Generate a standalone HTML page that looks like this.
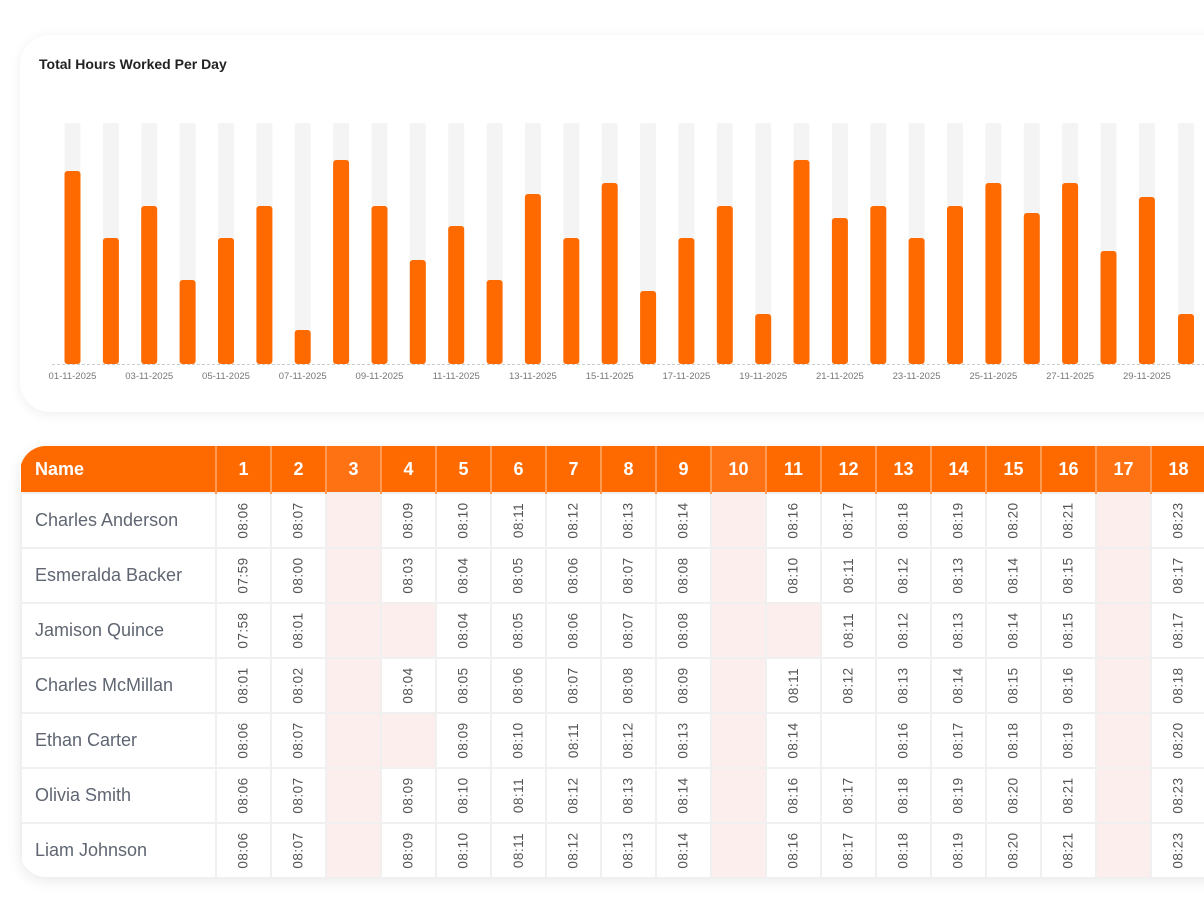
<!DOCTYPE html>
<html><head><meta charset="utf-8"><style>
body{margin:0;width:1204px;height:914px;background:#fff;position:relative;overflow:hidden;font-family:"Liberation Sans",sans-serif}
.card{position:absolute;left:20px;top:35px;width:1220px;height:377px;border-radius:30px;background:#fff;box-shadow:0 2px 12px rgba(0,0,0,0.07)}
.title{position:absolute;left:39px;top:56px;font-size:14px;font-weight:bold;color:#222}
.tw{position:absolute;left:20px;top:446px;width:1220px;height:431px;border-radius:26px 0 0 26px;overflow:hidden;box-shadow:0 4px 14px rgba(0,0,0,0.09);background:#fff}
table{border-collapse:collapse;table-layout:fixed;width:1240px}
th{background:#ff6a00;color:#fff;height:46px;font-size:18px;font-weight:bold;border-right:2px solid #ff9a55;padding:0}
th.w{background:#ff7214}
th.n{text-align:left;padding-left:14px}
td{height:53px;border:2px solid #f0f0f0;padding:0;text-align:center;font-size:13.5px;color:#555}
td.n{text-align:left;padding-left:13px;font-size:18px;color:#5f6672}
td.p{background:#fdeeee}
td span{display:inline-block;transform:rotate(-90deg);letter-spacing:0.5px}
</style></head><body>
<div class="card"></div>
<div class="title">Total Hours Worked Per Day</div>
<svg style="position:absolute;left:0;top:0" width="1204" height="420">
<g fill="#f4f4f4">
<rect x="64.5" y="123" width="16" height="241" rx="2"/><rect x="102.9" y="123" width="16" height="241" rx="2"/><rect x="141.2" y="123" width="16" height="241" rx="2"/><rect x="179.6" y="123" width="16" height="241" rx="2"/><rect x="218" y="123" width="16" height="241" rx="2"/><rect x="256.4" y="123" width="16" height="241" rx="2"/><rect x="294.7" y="123" width="16" height="241" rx="2"/><rect x="333.1" y="123" width="16" height="241" rx="2"/><rect x="371.5" y="123" width="16" height="241" rx="2"/><rect x="409.8" y="123" width="16" height="241" rx="2"/><rect x="448.2" y="123" width="16" height="241" rx="2"/><rect x="486.6" y="123" width="16" height="241" rx="2"/><rect x="524.9" y="123" width="16" height="241" rx="2"/><rect x="563.3" y="123" width="16" height="241" rx="2"/><rect x="601.7" y="123" width="16" height="241" rx="2"/><rect x="640.1" y="123" width="16" height="241" rx="2"/><rect x="678.4" y="123" width="16" height="241" rx="2"/><rect x="716.8" y="123" width="16" height="241" rx="2"/><rect x="755.2" y="123" width="16" height="241" rx="2"/><rect x="793.5" y="123" width="16" height="241" rx="2"/><rect x="831.9" y="123" width="16" height="241" rx="2"/><rect x="870.3" y="123" width="16" height="241" rx="2"/><rect x="908.6" y="123" width="16" height="241" rx="2"/><rect x="947" y="123" width="16" height="241" rx="2"/><rect x="985.4" y="123" width="16" height="241" rx="2"/><rect x="1023.8" y="123" width="16" height="241" rx="2"/><rect x="1062.1" y="123" width="16" height="241" rx="2"/><rect x="1100.5" y="123" width="16" height="241" rx="2"/><rect x="1138.9" y="123" width="16" height="241" rx="2"/><rect x="1178" y="123" width="16" height="241" rx="2"/>
</g>
<g fill="#ff6a00">
<rect x="64.5" y="171" width="16" height="193" rx="3"/><rect x="102.9" y="238" width="16" height="126" rx="3"/><rect x="141.2" y="206" width="16" height="158" rx="3"/><rect x="179.6" y="280" width="16" height="84" rx="3"/><rect x="218" y="238" width="16" height="126" rx="3"/><rect x="256.4" y="206" width="16" height="158" rx="3"/><rect x="294.7" y="330" width="16" height="34" rx="3"/><rect x="333.1" y="160" width="16" height="204" rx="3"/><rect x="371.5" y="206" width="16" height="158" rx="3"/><rect x="409.8" y="260" width="16" height="104" rx="3"/><rect x="448.2" y="226" width="16" height="138" rx="3"/><rect x="486.6" y="280" width="16" height="84" rx="3"/><rect x="524.9" y="194" width="16" height="170" rx="3"/><rect x="563.3" y="238" width="16" height="126" rx="3"/><rect x="601.7" y="183" width="16" height="181" rx="3"/><rect x="640.1" y="291" width="16" height="73" rx="3"/><rect x="678.4" y="238" width="16" height="126" rx="3"/><rect x="716.8" y="206" width="16" height="158" rx="3"/><rect x="755.2" y="314" width="16" height="50" rx="3"/><rect x="793.5" y="160" width="16" height="204" rx="3"/><rect x="831.9" y="218" width="16" height="146" rx="3"/><rect x="870.3" y="206" width="16" height="158" rx="3"/><rect x="908.6" y="238" width="16" height="126" rx="3"/><rect x="947" y="206" width="16" height="158" rx="3"/><rect x="985.4" y="183" width="16" height="181" rx="3"/><rect x="1023.8" y="213" width="16" height="151" rx="3"/><rect x="1062.1" y="183" width="16" height="181" rx="3"/><rect x="1100.5" y="251" width="16" height="113" rx="3"/><rect x="1138.9" y="197" width="16" height="167" rx="3"/><rect x="1178" y="314" width="16" height="50" rx="3"/>
</g>
<line x1="52" y1="364.5" x2="1204" y2="364.5" stroke="#ccc" stroke-dasharray="3,2"/>
<g font-size="9.5" fill="#777" text-anchor="middle" font-family="Liberation Sans,sans-serif">
<text x="72.5" y="379">01-11-2025</text><text x="149.2" y="379">03-11-2025</text><text x="226" y="379">05-11-2025</text><text x="302.7" y="379">07-11-2025</text><text x="379.5" y="379">09-11-2025</text><text x="456.2" y="379">11-11-2025</text><text x="532.9" y="379">13-11-2025</text><text x="609.7" y="379">15-11-2025</text><text x="686.4" y="379">17-11-2025</text><text x="763.2" y="379">19-11-2025</text><text x="839.9" y="379">21-11-2025</text><text x="916.6" y="379">23-11-2025</text><text x="993.4" y="379">25-11-2025</text><text x="1070.1" y="379">27-11-2025</text><text x="1146.9" y="379">29-11-2025</text>
</g>
</svg>
<div class="tw"><table>
<colgroup><col style="width:195px"><col style="width:55px"><col style="width:55px"><col style="width:55px"><col style="width:55px"><col style="width:55px"><col style="width:55px"><col style="width:55px"><col style="width:55px"><col style="width:55px"><col style="width:55px"><col style="width:55px"><col style="width:55px"><col style="width:55px"><col style="width:55px"><col style="width:55px"><col style="width:55px"><col style="width:55px"><col style="width:55px"><col style="width:55px"></colgroup>
<tr><th class="n">Name</th><th>1</th><th>2</th><th class="w">3</th><th>4</th><th>5</th><th>6</th><th>7</th><th>8</th><th>9</th><th class="w">10</th><th>11</th><th>12</th><th>13</th><th>14</th><th>15</th><th>16</th><th class="w">17</th><th>18</th><th>19</th></tr>
<tr><td class="n">Charles Anderson</td><td><span>08:06</span></td><td><span>08:07</span></td><td class="p"></td><td><span>08:09</span></td><td><span>08:10</span></td><td><span>08:11</span></td><td><span>08:12</span></td><td><span>08:13</span></td><td><span>08:14</span></td><td class="p"></td><td><span>08:16</span></td><td><span>08:17</span></td><td><span>08:18</span></td><td><span>08:19</span></td><td><span>08:20</span></td><td><span>08:21</span></td><td class="p"></td><td><span>08:23</span></td><td></td></tr>
<tr><td class="n">Esmeralda Backer</td><td><span>07:59</span></td><td><span>08:00</span></td><td class="p"></td><td><span>08:03</span></td><td><span>08:04</span></td><td><span>08:05</span></td><td><span>08:06</span></td><td><span>08:07</span></td><td><span>08:08</span></td><td class="p"></td><td><span>08:10</span></td><td><span>08:11</span></td><td><span>08:12</span></td><td><span>08:13</span></td><td><span>08:14</span></td><td><span>08:15</span></td><td class="p"></td><td><span>08:17</span></td><td></td></tr>
<tr><td class="n">Jamison Quince</td><td><span>07:58</span></td><td><span>08:01</span></td><td class="p"></td><td class="p"></td><td><span>08:04</span></td><td><span>08:05</span></td><td><span>08:06</span></td><td><span>08:07</span></td><td><span>08:08</span></td><td class="p"></td><td class="p"></td><td><span>08:11</span></td><td><span>08:12</span></td><td><span>08:13</span></td><td><span>08:14</span></td><td><span>08:15</span></td><td class="p"></td><td><span>08:17</span></td><td></td></tr>
<tr><td class="n">Charles McMillan</td><td><span>08:01</span></td><td><span>08:02</span></td><td class="p"></td><td><span>08:04</span></td><td><span>08:05</span></td><td><span>08:06</span></td><td><span>08:07</span></td><td><span>08:08</span></td><td><span>08:09</span></td><td class="p"></td><td><span>08:11</span></td><td><span>08:12</span></td><td><span>08:13</span></td><td><span>08:14</span></td><td><span>08:15</span></td><td><span>08:16</span></td><td class="p"></td><td><span>08:18</span></td><td></td></tr>
<tr><td class="n">Ethan Carter</td><td><span>08:06</span></td><td><span>08:07</span></td><td class="p"></td><td class="p"></td><td><span>08:09</span></td><td><span>08:10</span></td><td><span>08:11</span></td><td><span>08:12</span></td><td><span>08:13</span></td><td class="p"></td><td><span>08:14</span></td><td></td><td><span>08:16</span></td><td><span>08:17</span></td><td><span>08:18</span></td><td><span>08:19</span></td><td class="p"></td><td><span>08:20</span></td><td></td></tr>
<tr><td class="n">Olivia Smith</td><td><span>08:06</span></td><td><span>08:07</span></td><td class="p"></td><td><span>08:09</span></td><td><span>08:10</span></td><td><span>08:11</span></td><td><span>08:12</span></td><td><span>08:13</span></td><td><span>08:14</span></td><td class="p"></td><td><span>08:16</span></td><td><span>08:17</span></td><td><span>08:18</span></td><td><span>08:19</span></td><td><span>08:20</span></td><td><span>08:21</span></td><td class="p"></td><td><span>08:23</span></td><td></td></tr>
<tr><td class="n">Liam Johnson</td><td><span>08:06</span></td><td><span>08:07</span></td><td class="p"></td><td><span>08:09</span></td><td><span>08:10</span></td><td><span>08:11</span></td><td><span>08:12</span></td><td><span>08:13</span></td><td><span>08:14</span></td><td class="p"></td><td><span>08:16</span></td><td><span>08:17</span></td><td><span>08:18</span></td><td><span>08:19</span></td><td><span>08:20</span></td><td><span>08:21</span></td><td class="p"></td><td><span>08:23</span></td><td></td></tr>
</table></div>
</body></html>
